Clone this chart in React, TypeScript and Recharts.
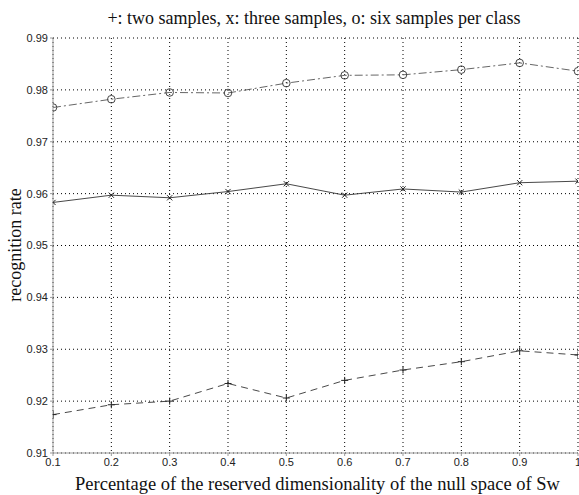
import React from 'react';
import { LineChart, Line, XAxis, YAxis, CartesianGrid } from 'recharts';

const xValues = [0.1, 0.2, 0.3, 0.4, 0.5, 0.6, 0.7, 0.8, 0.9, 1.0];
const twoSamples = [0.9174, 0.9193, 0.9200, 0.9234, 0.9206, 0.9240, 0.9260, 0.9276, 0.9297, 0.9289];
const threeSamples = [0.9583, 0.9597, 0.9592, 0.9604, 0.9619, 0.9597, 0.9609, 0.9603, 0.9621, 0.9624];
const sixSamples = [0.9766, 0.9782, 0.9795, 0.9794, 0.9813, 0.9828, 0.9829, 0.9839, 0.9852, 0.9836];
const xTicks = [0.1, 0.2, 0.3, 0.4, 0.5, 0.6, 0.7, 0.8, 0.9, 1];
const yTicks = [0.91, 0.92, 0.93, 0.94, 0.95, 0.96, 0.97, 0.98, 0.99];

const titleText = '+: two samples, x: three samples, o: six samples per class';
const xLabel = 'Percentage of the reserved dimensionality of the null space of Sw';
const yLabel = 'recognition rate';

const data = xValues.map((x, i) => ({
  x,
  two: twoSamples[i],
  three: threeSamples[i],
  six: sixSamples[i],
}));

const PlusDot = (props: any) => {
  const { cx, cy } = props;
  if (cx == null || cy == null) return null;
  const s = 3.5;
  return (
    <g>
      <line x1={cx - s} y1={cy} x2={cx + s} y2={cy} stroke="#222" strokeWidth={1} />
      <line x1={cx} y1={cy - s} x2={cx} y2={cy + s} stroke="#222" strokeWidth={1} />
    </g>
  );
};

const CrossDot = (props: any) => {
  const { cx, cy } = props;
  if (cx == null || cy == null) return null;
  const s = 2.6;
  return (
    <g>
      <line x1={cx - s} y1={cy - s} x2={cx + s} y2={cy + s} stroke="#222" strokeWidth={1} />
      <line x1={cx - s} y1={cy + s} x2={cx + s} y2={cy - s} stroke="#222" strokeWidth={1} />
    </g>
  );
};

const CircleDot = (props: any) => {
  const { cx, cy } = props;
  if (cx == null || cy == null) return null;
  return <circle cx={cx} cy={cy} r={3.8} fill="none" stroke="#333" strokeWidth={0.9} />;
};

const tickStyle = { fontSize: 11, fill: '#222', fontFamily: '"Liberation Sans", Arial, sans-serif' };
const serif = '"Liberation Serif", "Times New Roman", serif';

export default function App() {
  return (
    <div style={{ position: 'absolute', left: 0, top: 0, width: 579, height: 495, background: '#fff' }}>
      <LineChart
        width={579}
        height={495}
        data={data}
        margin={{ top: 38, right: 1, bottom: 0, left: 0 }}
      >
        <CartesianGrid
          stroke="#000"
          strokeDasharray="1 3"
          strokeWidth={1}
          horizontalValues={yTicks}
          verticalValues={xTicks}
        />
        <XAxis
          dataKey="x"
          type="number"
          domain={[0.1, 1]}
          ticks={xTicks}
          tickFormatter={(v: number) => (v === 1 ? '1' : v.toFixed(1))}
          height={42}
          stroke="#999"
          tickLine={{ stroke: '#999' }}
          tickSize={3}
          tickMargin={2}
          tick={tickStyle}
          interval={0}
          allowDataOverflow
        />
        <YAxis
          type="number"
          domain={[0.91, 0.99]}
          ticks={yTicks}
          tickFormatter={(v: number) => v.toFixed(2)}
          width={53}
          stroke="#999"
          tickLine={{ stroke: '#999' }}
          tickSize={3}
          tickMargin={2}
          tick={tickStyle}
          interval={0}
          allowDataOverflow
        />
        <Line
          dataKey="two"
          stroke="#333"
          strokeWidth={0.9}
          strokeDasharray="7 5"
          dot={<PlusDot />}
          isAnimationActive={false}
        />
        <Line
          dataKey="three"
          stroke="#333"
          strokeWidth={0.9}
          dot={<CrossDot />}
          isAnimationActive={false}
        />
        <Line
          dataKey="six"
          stroke="#555"
          strokeWidth={0.9}
          strokeDasharray="8 3 2 3"
          dot={<CircleDot />}
          isAnimationActive={false}
        />
      </LineChart>
      <div
        style={{
          position: 'absolute', left: 0, top: 7, width: 628, textAlign: 'center',
          fontFamily: serif, fontSize: 18, color: '#111', whiteSpace: 'nowrap', lineHeight: '22px',
        }}
      >
        {titleText}
      </div>
      <div
        style={{
          position: 'absolute', left: 0, top: 473, width: 635, textAlign: 'center',
          fontFamily: serif, fontSize: 18.5, color: '#111', whiteSpace: 'nowrap', lineHeight: '22px',
        }}
      >
        {xLabel}
      </div>
      <div
        style={{
          position: 'absolute', left: 15, top: 245, width: 0, height: 0,
        }}
      >
        <div
          style={{
            position: 'absolute', left: 0, top: 0, transform: 'translate(-50%, -50%) rotate(-90deg)',
            fontFamily: serif, fontSize: 18, color: '#111', whiteSpace: 'nowrap', lineHeight: '22px',
          }}
        >
          {yLabel}
        </div>
      </div>
    </div>
  );
}
